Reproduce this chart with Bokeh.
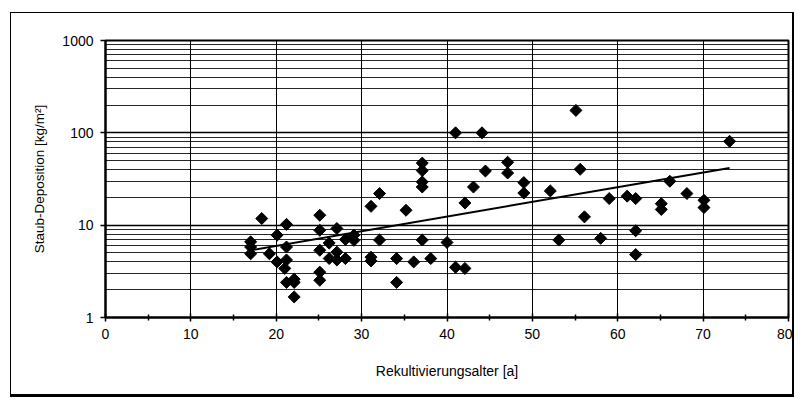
import numpy as np
from bokeh.plotting import figure
from bokeh.models import FixedTicker, PrintfTickFormatter, ColumnDataSource
from bokeh.embed import file_html
from bokeh.resources import INLINE

# ---- data ----
alter = [17, 17, 17, 18.3, 19.2, 20.1, 20.1, 21.2, 21.2, 21.2, 21, 21.2, 22.1, 22.1, 22.1,
         25.1, 25.1, 25.1, 25.1, 25.1, 26.2, 26.2, 27.1, 27.1, 27.1, 28.1, 28.1, 29.1, 29.1,
         31.1, 31.1, 31.1, 32.1, 32.1, 34.1, 34.1, 35.2, 36.1,
         37.1, 37.1, 37.1, 37.1, 37.1, 38.1, 40, 41, 41, 42.1, 42.1, 43.1, 44.1, 44.5,
         47.1, 47.1, 49, 49, 52.1, 53.1, 55.1, 55.6, 56.1, 58, 59, 61.1,
         62.1, 62.1, 62.1, 65.1, 65.1, 66.1, 68.1, 70.1, 70.1, 73.1]
deposition = [6.6, 5.8, 4.9, 11.8, 4.9, 7.8, 4.0, 10.2, 5.8, 4.2, 3.4, 2.4, 2.6, 2.4, 1.67,
              12.8, 8.8, 5.35, 3.1, 2.53, 6.4, 4.35, 9.2, 5.1, 4.2, 7.0, 4.35, 7.8, 6.85,
              16, 4.5, 4.1, 22, 6.9, 4.35, 2.4, 14.5, 4.0,
              47, 39, 29.4, 25.9, 6.9, 4.35, 6.5, 100, 3.5, 17.4, 3.4, 25.9, 100, 38.6,
              48, 36.7, 28.9, 22.3, 23.5, 6.9, 175, 40.3, 12.3, 7.2, 19.4, 20.6,
              19.4, 8.7, 4.8, 17.1, 14.8, 29.9, 22, 18.6, 15.5, 81]
# exponential trend line as drawn in the picture (start / end of the line)
trend_alter = [17, 73.1]
trend_deposition = [5.35, 41.5]
x_ticks = [0, 10, 20, 30, 40, 50, 60, 70, 80]
x_minor = [5, 15, 25, 35, 45, 55, 65, 75]
y_ticks = [1, 10, 100, 1000]
x_title = "Rekultivierungsalter [a]"
y_title = "Staub-Deposition [kg/m²]"

FONT = "Liberation Sans"

p = figure(width=784, height=385, y_axis_type="log",
           x_range=(0, 80), y_range=(1, 1000),
           output_backend="svg", toolbar_location=None,
           min_border_left=94, min_border_right=7, min_border_top=27, min_border_bottom=81,
           background_fill_color="white", border_fill_color="white")
p.styles = {"border-style": "solid", "border-color": "black",
            "border-width": "1px 2px 3px 1px",
            "margin-left": "10px", "margin-top": "12px"}

p.outline_line_color = "black"
p.outline_line_width = 2

# grid
p.xgrid.ticker = FixedTicker(ticks=x_ticks, minor_ticks=x_minor)
p.xgrid.grid_line_color = "black"
p.xgrid.grid_line_width = 1
p.xgrid.minor_grid_line_color = None
minor_y = [m * 10 ** e for e in range(0, 3) for m in range(2, 10)]
p.ygrid.ticker = FixedTicker(ticks=y_ticks, minor_ticks=minor_y)
p.ygrid.grid_line_color = "black"
p.ygrid.grid_line_width = 1.5
p.ygrid.minor_grid_line_color = "black"
p.ygrid.minor_grid_line_width = 1
p.ygrid.minor_grid_line_alpha = 0.85

# x axis
xa_ = p.xaxis[0]
xa_.ticker = FixedTicker(ticks=x_ticks, minor_ticks=x_minor)
xa_.axis_line_color = "black"
xa_.axis_line_width = 2
xa_.major_tick_in = 4
xa_.major_tick_out = 4
xa_.minor_tick_in = 3
xa_.minor_tick_out = 3
xa_.major_tick_line_width = 1.5
xa_.minor_tick_line_width = 1.5
xa_.major_label_text_font = FONT
xa_.major_label_text_font_size = "14px"
xa_.major_label_text_color = "black"
xa_.major_label_standoff = 7
xa_.axis_label = x_title
xa_.axis_label_text_font = FONT
xa_.axis_label_text_font_style = "normal"
xa_.axis_label_text_font_size = "14px"
xa_.axis_label_text_color = "black"
xa_.axis_label_standoff = 21

# y axis
ya_ = p.yaxis[0]
ya_.ticker = FixedTicker(ticks=y_ticks, minor_ticks=[])
ya_.formatter = PrintfTickFormatter(format="%d")
ya_.axis_line_color = "black"
ya_.axis_line_width = 2
ya_.major_tick_in = 0
ya_.major_tick_out = 5
ya_.minor_tick_in = 0
ya_.minor_tick_out = 0
ya_.major_tick_line_width = 1.5
ya_.major_label_text_font = FONT
ya_.major_label_text_font_size = "14px"
ya_.major_label_text_color = "black"
ya_.major_label_standoff = 7
ya_.axis_label = y_title
ya_.axis_label_text_font = FONT
ya_.axis_label_text_font_style = "normal"
ya_.axis_label_text_font_size = "13.5px"
ya_.axis_label_text_color = "black"
ya_.axis_label_standoff = 12

src = ColumnDataSource(dict(x=alter, y=deposition))
p.scatter("x", "y", source=src, marker="square", angle=np.pi / 4, size=8.5,
          fill_color="black", line_color="black")
p.line(trend_alter, trend_deposition, line_color="black", line_width=2)

open("out.html", "w").write(file_html(p, INLINE))
